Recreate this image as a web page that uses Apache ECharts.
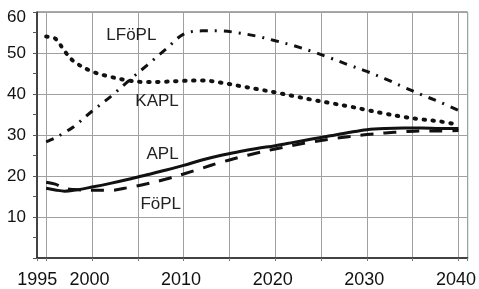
<!DOCTYPE html>
<html>
<head>
<meta charset="utf-8">
<script src="https://cdn.jsdelivr.net/npm/echarts@6/dist/echarts.min.js"></script>
<style>html,body{margin:0;padding:0;background:#fff}#c{width:479px;height:289px}</style>
</head>
<body>
<div id="c"></div>
<script>
const years = [1995, 1996, 1997, 1998, 2000, 2002, 2004, 2006, 2008, 2010, 2012, 2014, 2016, 2018, 2020, 2022, 2024, 2026, 2028, 2030, 2032, 2034, 2036, 2038, 2040];
const kapl  = [54.0, 53.5, 50.5, 48.0, 45.5, 44.2, 43.3, 42.9, 43.0, 43.2, 43.3, 42.8, 42.0, 41.2, 40.4, 39.5, 38.6, 37.8, 37.0, 36.1, 35.2, 34.4, 33.8, 33.3, 32.5];
const lfopl = [28.3, 29.3, 30.6, 32.0, 35.8, 39.3, 43.2, 47.0, 50.8, 54.6, 55.4, 55.4, 54.9, 54.1, 53.0, 51.8, 50.4, 48.8, 47.1, 45.5, 43.7, 41.7, 39.8, 38.0, 36.0];
const apl   = [17.0, 16.6, 16.3, 16.5, 17.3, 18.2, 19.2, 20.3, 21.4, 22.6, 23.9, 25.0, 25.9, 26.7, 27.4, 28.2, 29.0, 29.8, 30.6, 31.3, 31.6, 31.7, 31.7, 31.6, 31.6];
const fopl  = [18.5, 18.0, 17.0, 16.7, 16.5, 16.5, 17.2, 18.1, 19.2, 20.5, 21.9, 23.3, 24.5, 25.6, 26.6, 27.5, 28.3, 29.0, 29.6, 30.1, 30.5, 30.8, 31.0, 31.0, 31.1];
const xTickLabels = [1995, 2000, 2010, 2020, 2030, 2040];
const yTickLabels = [10, 20, 30, 40, 50, 60];
const seriesNames = ['KAPL', 'LFöPL', 'APL', 'FöPL'];
const labelAnchors = {
  'LFöPL': [2004.3, 54.2],
  'KAPL': [2007.1, 38.2],
  'APL': [2007.7, 25.4],
  'FöPL': [2007.5, 13.2]
};

const pair = arr => years.map((y, i) => [y, arr[i]]);
const FONT = 'Liberation Sans, Arial, sans-serif';
const INK = '#111';

function mk(name, data, lineStyle) {
  return {
    name: name,
    type: 'line',
    data: pair(data),
    smooth: 0.35,
    showSymbol: false,
    symbol: 'none',
    lineStyle: Object.assign({color: INK}, lineStyle),
    silent: true,
    markPoint: {
      symbol: 'circle', symbolSize: 0,
      data: [{coord: labelAnchors[name]}],
      label: {show: true, position: 'inside', formatter: name, fontSize: 17, fontFamily: FONT, color: '#222'}
    }
  };
}

const chart = echarts.init(document.getElementById('c'), null, {renderer: 'canvas'});
chart.setOption({
  animation: false,
  backgroundColor: '#fff',
  grid: {left: 37, right: 10, top: 12, bottom: 27, show: true, borderColor: '#555', borderWidth: 1},
  xAxis: {
    type: 'value', min: 1994, max: 2041, minInterval: 5, maxInterval: 5, splitNumber: 10,
    axisLine: {show: true, lineStyle: {color: '#222', width: 1.5}},
    axisTick: {show: true, length: 3, inside: false, lineStyle: {color: '#777'}},
    splitLine: {show: true, lineStyle: {color: '#a0a0a0', width: 1}},
    axisLabel: {
      margin: 13, fontSize: 18, fontFamily: FONT, color: '#111',
      formatter: v => {
        if (xTickLabels.indexOf(v) < 0) return '';
        return v === 1995 ? '{s|' + v + '}' : '{n|' + v + '}';
      },
      rich: {
        s: {fontSize: 18, fontFamily: FONT, color: '#111', padding: [0, 18, 0, 0]},
        n: {fontSize: 18, fontFamily: FONT, color: '#111', padding: [0, 5, 0, 0]}
      }
    }
  },
  yAxis: {
    type: 'value', min: 0, max: 60, interval: 10,
    axisLine: {show: true, lineStyle: {color: '#222', width: 1.5}},
    axisTick: {show: true, length: 4, lineStyle: {color: '#555'}},
    minorTick: {show: true, splitNumber: 2, length: 4, lineStyle: {color: '#555'}},
    splitLine: {show: true, lineStyle: {color: '#a0a0a0', width: 1}},
    axisLabel: {
      margin: 11, fontSize: 17, fontFamily: FONT, color: '#111',
      formatter: v => {
        if (yTickLabels.indexOf(v) < 0) return '';
        return v === 60 ? '{t|' + v + '}' : '{n|' + v + '}';
      },
      rich: {
        t: {fontSize: 17, fontFamily: FONT, color: '#111', padding: [10, 0, 0, 0]},
        n: {fontSize: 17, fontFamily: FONT, color: '#111'}
      }
    }
  },
  series: [
    mk('LFöPL', lfopl, {width: 3, type: [8, 7, 2, 7], cap: 'butt'}),
    mk('KAPL', kapl, {width: 4, type: [1.5, 7.5], cap: 'round'}),
    mk('FöPL', fopl, {width: 3, type: [13, 10], cap: 'butt'}),
    mk('APL', apl, {width: 3, type: 'solid'})
  ]
});
</script>
</body>
</html>
